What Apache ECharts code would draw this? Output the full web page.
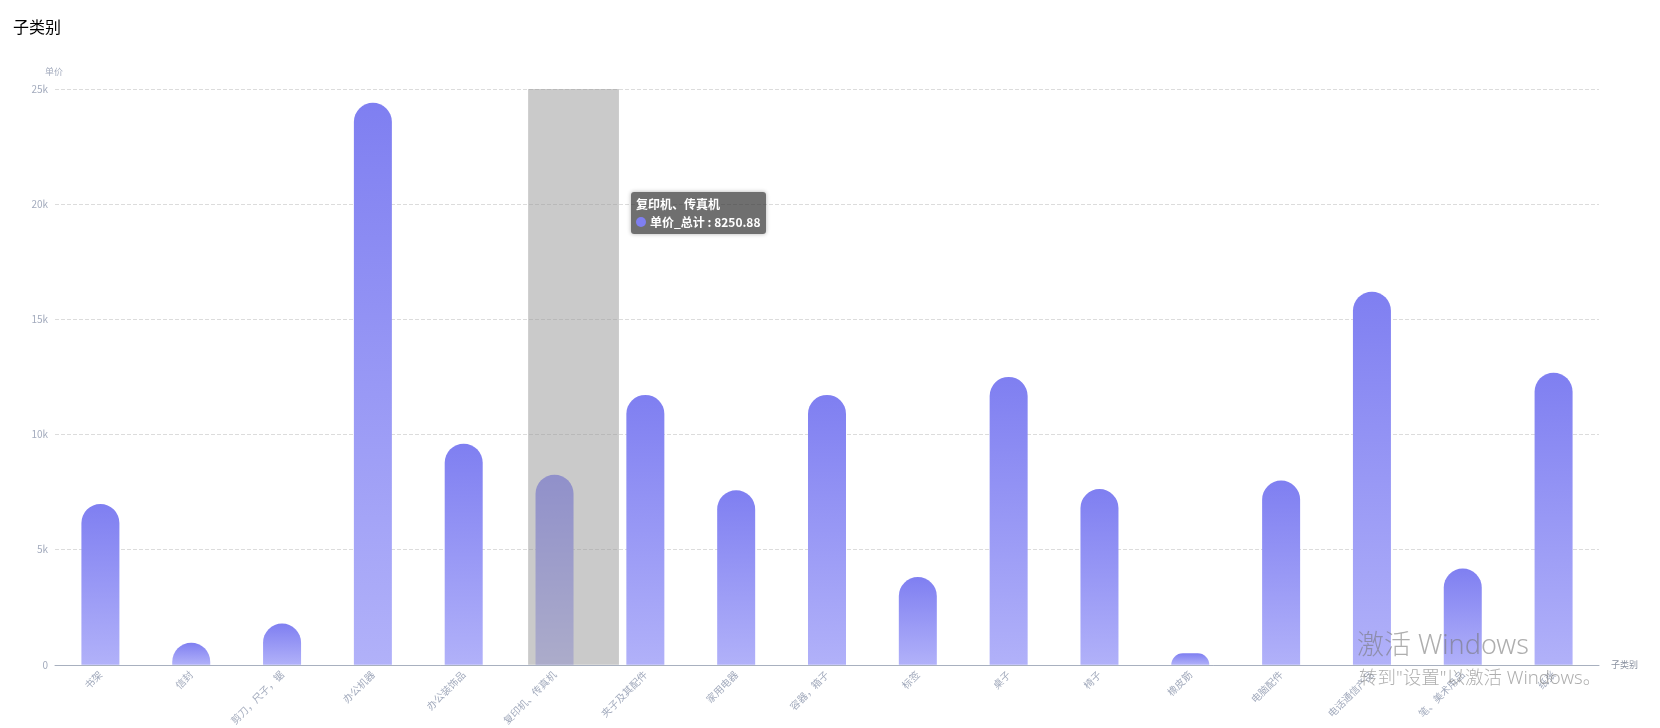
<!DOCTYPE html>
<html>
<head>
<meta charset="utf-8">
<script src="https://cdn.jsdelivr.net/npm/echarts@6/dist/echarts.min.js"></script>
<style>
  html, body {margin: 0; padding: 0; background: #fff;}
  #main {width: 1660px; height: 728px;}
</style>
</head>
<body>
<div id="main"></div>
<script>
const categories = ['书架', '信封', '剪刀，尺子，锯', '办公机器', '办公装饰品', '复印机、传真机', '夹子及其配件', '家用电器', '容器，箱子', '标签', '桌子', '椅子', '橡皮筋', '电脑配件', '电话通信产品', '笔、美术用品', '纸张']
const prices = [6985, 960, 1790, 24400, 9600, 8250.88, 11720, 7580, 11720, 3810, 12500, 7630, 500, 8000, 16200, 4180, 12680]
const yTicks = [0, 5000, 10000, 15000, 20000, 25000]
const hoverIndex = 5

const chart = echarts.init(document.getElementById('main'))
const font = '"Noto Sans CJK SC", "Microsoft YaHei", sans-serif'
const labelColor = '#a3abbd'

chart.setOption({
  animation: false,
  textStyle: {fontFamily: font},
  title: {
    text: '子类别', left: 8, top: 14,
    textStyle: {fontSize: 16, fontWeight: 'normal', color: '#000', fontFamily: font}
  },
  tooltip: {
    trigger: 'axis',
    axisPointer: {type: 'none'},
    backgroundColor: 'rgba(50,50,50,0.7)',
    borderWidth: 0,
    padding: [3, 5],
    textStyle: {color: '#fff', fontSize: 12, fontWeight: 'bold', fontFamily: font, lineHeight: 18},
    extraCssText: 'border-radius:3px;box-shadow:0 0 4px rgba(0,0,0,0.3);line-height:18px;',
    position: [631, 192],
    formatter(params) {
      const p = params[0]
      return p.name + '<br/>' + p.marker + p.seriesName + ' : ' + p.value
    }
  },
  grid: {left: 55, right: 61, top: 89, bottom: 63},
  xAxis: {
    type: 'category',
    data: categories,
    name: '子类别',
    nameGap: 12,
    nameTextStyle: {color: '#8a91a0', fontSize: 9},
    axisLine: {lineStyle: {color: '#a8b0bf'}},
    axisTick: {show: false},
    axisLabel: {rotate: 45, color: labelColor, fontSize: 10, interval: 0, margin: 8}
  },
  yAxis: {
    type: 'value',
    name: '单价',
    min: yTicks[0],
    max: yTicks[yTicks.length - 1],
    interval: yTicks[1] - yTicks[0],
    nameGap: 13,
    nameTextStyle: {color: '#a3abbd', fontSize: 9, align: 'right', padding: [0, -8, 0, 0]},
    axisLine: {show: false},
    axisTick: {show: false},
    axisLabel: {
      color: labelColor, fontSize: 10, margin: 7,
      formatter: val => val === 0 ? '0' : val / 1000 + 'k'
    },
    splitLine: {lineStyle: {color: '#dcdcdc', type: 'dashed'}}
  },
  series: [{
    name: '单价_总计',
    type: 'bar',
    data: prices,
    barWidth: 38,
    itemStyle: {
      borderRadius: [19, 19, 0, 0],
      color: new echarts.graphic.LinearGradient(0, 0, 0, 1, [
        {offset: 0, color: '#7f7ff1'},
        {offset: 1, color: '#b1b1f9'}
      ])
    }
  }]
})

// hover shadow (as captured, slightly right of the band) plus the OS watermark on top
const cx = chart.convertToPixel({xAxisIndex: 0}, hoverIndex)
const band = chart.convertToPixel({xAxisIndex: 0}, 1) - chart.convertToPixel({xAxisIndex: 0}, 0)
const yTop = chart.convertToPixel({yAxisIndex: 0}, yTicks[yTicks.length - 1])
const yBottom = chart.convertToPixel({yAxisIndex: 0}, yTicks[0])
const wmFont = '"Noto Sans", "Noto Sans CJK SC", sans-serif'
chart.setOption({
  graphic: [
    {type: 'rect', z: 50, silent: true,
      shape: {x: cx - band / 2 + 19, y: yTop, width: band, height: yBottom - yTop},
      style: {fill: 'rgba(150,150,150,0.5)'}},
    {type: 'text', z: 100, left: 1357, top: 633, silent: true,
      style: {text: '激活 Windows', fontSize: 27, fontWeight: 300, fill: 'rgba(120,120,120,0.6)', fontFamily: wmFont}},
    {type: 'text', z: 100, left: 1359, top: 669, silent: true,
      style: {text: '转到"设置"以激活 Windows。', fontSize: 18.5, fontWeight: 300, fill: 'rgba(120,120,120,0.6)', fontFamily: wmFont}}
  ]
})

chart.dispatchAction({type: 'showTip', seriesIndex: 0, dataIndex: hoverIndex})
</script>
</body>
</html>
